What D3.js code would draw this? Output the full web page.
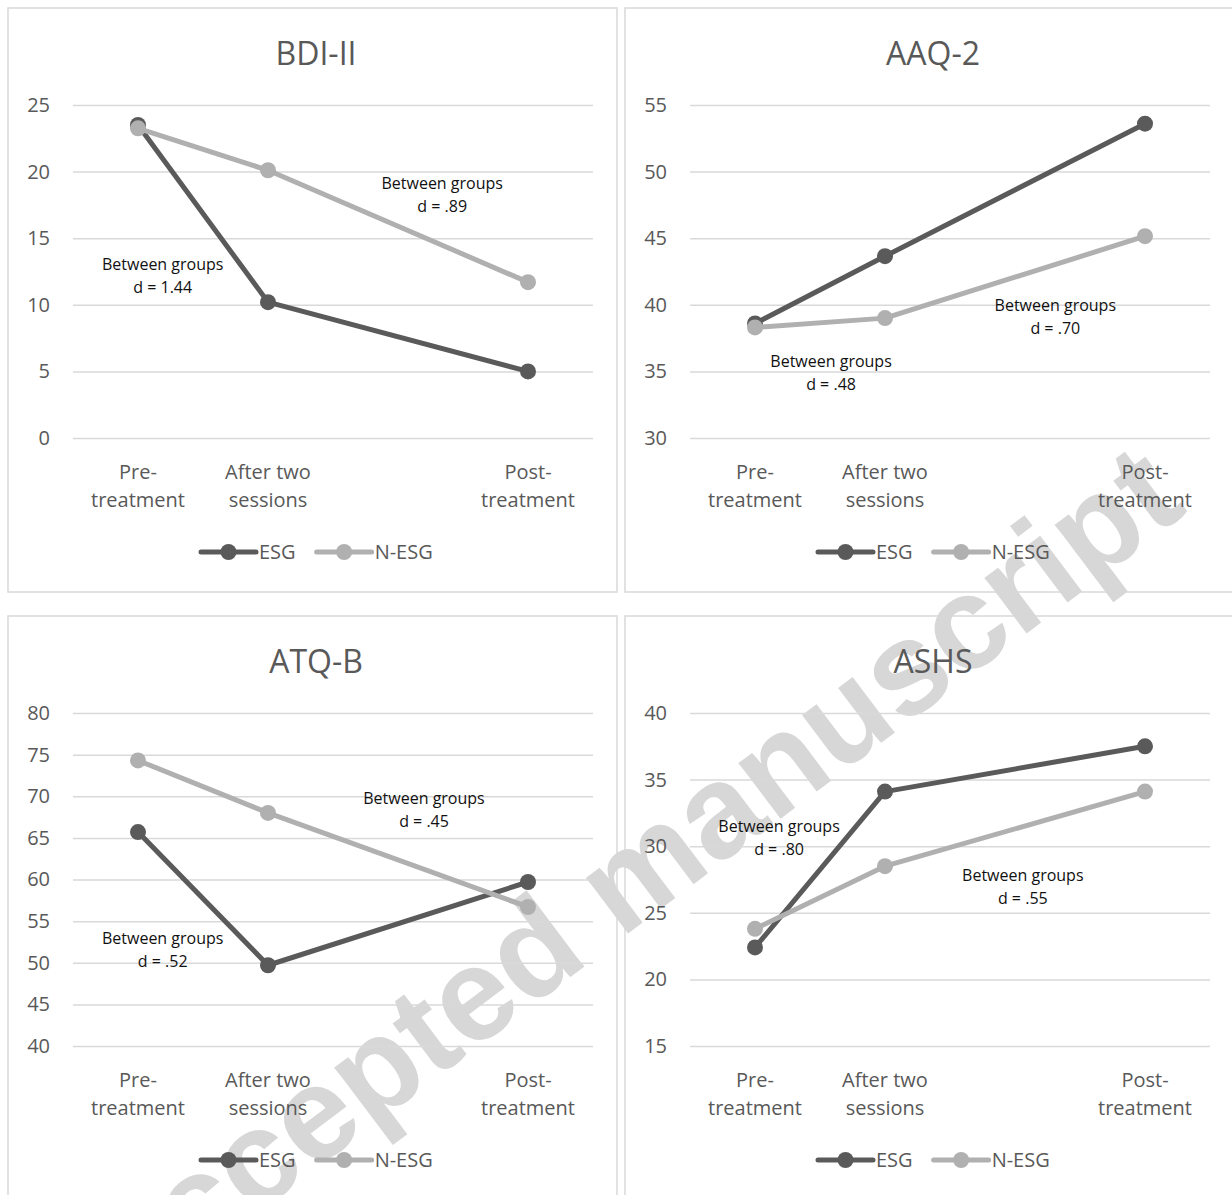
<!DOCTYPE html>
<html>
<head>
<meta charset="utf-8">
<script src="https://cdn.jsdelivr.net/npm/d3@7"></script>
<style>
  body { margin: 0; background: #fff; }
  svg { display: block; }
  text { font-family: "Open Sans", "Noto Sans", sans-serif; }
</style>
</head>
<body>
<svg id="chart" width="1232" height="1195"></svg>
<script>
// ---------------- data ----------------
const categories = ["Pre-\ntreatment", "After two\nsessions", "", "Post-\ntreatment"];
const seriesNames = ["ESG", "N-ESG"];
const titles = ["BDI-II", "AAQ-2", "ATQ-B", "ASHS"];

const esgBDI  = [23.5, 10.2, null, 5.0];
const nesgBDI = [23.25, 20.1, null, 11.7];
const esgAAQ  = [38.6, 43.65, null, 53.6];
const nesgAAQ = [38.3, 39.0, null, 45.15];
const esgATQ  = [65.7, 49.7, null, 59.7];
const nesgATQ = [74.3, 68.0, null, 56.7];
const esgASHS  = [22.4, 34.1, null, 37.5];
const nesgASHS = [23.8, 28.5, null, 34.1];

const ticksBDI  = [0, 5, 10, 15, 20, 25];
const ticksAAQ  = [30, 35, 40, 45, 50, 55];
const ticksATQ  = [40, 45, 50, 55, 60, 65, 70, 75, 80];
const ticksASHS = [15, 20, 25, 30, 35, 40];

// annotation anchors in data units: x = category index, v = value of first line baseline
const annBDI  = [{ label: "d = .89", x: 2.34, v: 18.7 }, { label: "d = 1.44", x: 0.19, v: 12.6 }];
const annAAQ  = [{ label: "d = .70", x: 2.31, v: 39.5 }, { label: "d = .48", x: 0.585, v: 35.3 }];
const annATQ  = [{ label: "d = .45", x: 2.2, v: 69.1 }, { label: "d = .52", x: 0.19, v: 52.25 }];
const annASHS = [{ label: "d = .80", x: 0.185, v: 31.1 }, { label: "d = .55", x: 2.06, v: 27.4 }];
const annHeader = "Between groups";

const watermark = "Accepted manuscript";

// ---------------- layout ----------------
const colors = { "ESG": "#5a5a5a", "N-ESG": "#b0b0b0" };
const panels = [
  { x0: 8,   y0: 8,   title: titles[0], esg: esgBDI,  nesg: nesgBDI,  ticks: ticksBDI,  ann: annBDI },
  { x0: 625, y0: 8,   title: titles[1], esg: esgAAQ,  nesg: nesgAAQ,  ticks: ticksAAQ,  ann: annAAQ },
  { x0: 8,   y0: 616, title: titles[2], esg: esgATQ,  nesg: nesgATQ,  ticks: ticksATQ,  ann: annATQ },
  { x0: 625, y0: 616, title: titles[3], esg: esgASHS, nesg: nesgASHS, ticks: ticksASHS, ann: annASHS }
];
const PW = 609, PH = 584;
const plotL = 65, plotR = 585, plotT = 97, plotB = 430;

const svg = d3.select("#chart");
svg.append("rect").attr("width", 1232).attr("height", 1195).attr("fill", "#fff");

// panel borders
panels.forEach(p => {
  svg.append("rect")
    .attr("x", p.x0).attr("y", p.y0).attr("width", PW).attr("height", PH)
    .attr("fill", "#fff").attr("stroke", "#d9d9d9").attr("stroke-width", 1.5);
});

// watermark (behind chart content)
svg.append("text")
  .attr("transform", "translate(632,887) rotate(-37)")
  .attr("text-anchor", "middle")
  .attr("dominant-baseline", "middle")
  .style("font-family", "'Liberation Sans', Arial, sans-serif")
  .style("font-weight", "bold")
  .style("font-size", "132px")
  .attr("fill", "#d7d7d7")
  .text(watermark);

panels.forEach(p => {
  const g = svg.append("g").attr("transform", `translate(${p.x0},${p.y0})`);
  const x = d3.scaleLinear().domain([-0.5, categories.length - 0.5]).range([plotL, plotR]);
  const y = d3.scaleLinear().domain(d3.extent(p.ticks)).range([plotB, plotT]);

  // gridlines + y tick labels
  const yAxis = d3.axisLeft(y).tickValues(p.ticks).tickSize(-(plotR - plotL)).tickPadding(23).tickFormat(d3.format("d"));
  const ya = g.append("g").attr("transform", `translate(${plotL},0)`).call(yAxis);
  ya.select(".domain").remove();
  ya.selectAll(".tick line").attr("stroke", "#d9d9d9").attr("stroke-width", 1.5);
  ya.selectAll(".tick text").attr("fill", "#595959").style("font-size", "20px")
    .style("font-family", "'Open Sans', sans-serif");

  // x axis labels (two lines)
  const xa = g.append("g");
  categories.forEach((c, i) => {
    if (!c) return;
    const lines = c.split("\n");
    const t = xa.append("text").attr("x", x(i)).attr("y", 471)
      .attr("text-anchor", "middle").attr("fill", "#595959").style("font-size", "20px");
    lines.forEach((ln, k) => {
      t.append("tspan").attr("x", x(i)).attr("dy", k === 0 ? 0 : 28).text(ln);
    });
  });

  // title (centred on the panel)
  g.append("text").attr("x", 308).attr("y", 57)
    .attr("text-anchor", "middle").attr("fill", "#595959")
    .style("font-size", "32px").text(p.title);

  // series
  const series = [
    { name: seriesNames[0], vals: p.esg },
    { name: seriesNames[1], vals: p.nesg }
  ];
  const line = d3.line().x(d => x(d.i)).y(d => y(d.v));
  series.forEach(s => {
    const pts = s.vals.map((v, i) => ({ i, v })).filter(d => d.v !== null);
    g.append("path").datum(pts).attr("d", line)
      .attr("fill", "none").attr("stroke", colors[s.name]).attr("stroke-width", 5)
      .attr("stroke-linecap", "round").attr("stroke-linejoin", "round");
    g.selectAll(null).data(pts).enter().append("circle")
      .attr("cx", d => x(d.i)).attr("cy", d => y(d.v)).attr("r", 8)
      .attr("fill", colors[s.name]);
  });

  // annotations
  p.ann.forEach(a => {
    const t = g.append("text").attr("x", x(a.x)).attr("y", y(a.v))
      .attr("text-anchor", "middle").attr("fill", "#111")
      .style("font-size", "16px");
    t.append("tspan").attr("x", x(a.x)).attr("dy", 0).text(annHeader);
    t.append("tspan").attr("x", x(a.x)).attr("dy", 23).text(a.label);
  });

  // legend
  const lg = g.append("g").attr("transform", "translate(193,544)");
  let cx = 0;
  series.forEach(s => {
    const it = lg.append("g").attr("transform", `translate(${cx},0)`);
    it.append("line").attr("x1", 0).attr("x2", 55).attr("y1", 0).attr("y2", 0)
      .attr("stroke", colors[s.name]).attr("stroke-width", 5).attr("stroke-linecap", "round");
    it.append("circle").attr("cx", 27.5).attr("cy", 0).attr("r", 8).attr("fill", colors[s.name]);
    const tx = it.append("text").attr("x", 58).attr("y", 7).attr("fill", "#595959")
      .style("font-size", "20px").text(s.name);
    cx += 58 + tx.node().getComputedTextLength() + 21;
  });
});
</script>
</body>
</html>
